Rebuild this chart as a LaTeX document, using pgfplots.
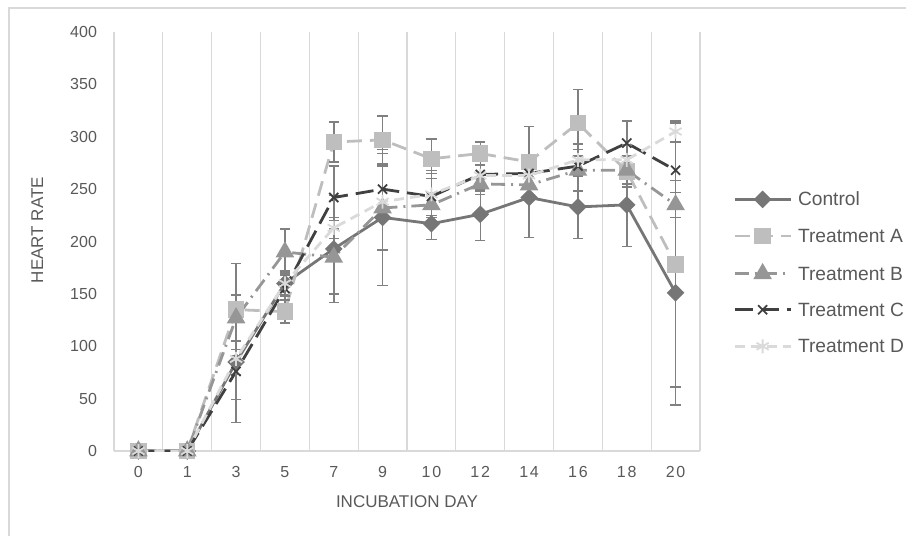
\documentclass[border=0pt]{standalone}
\usepackage{pgfplots}
\usepackage{pgfplotstable}
\pgfplotsset{compat=1.18}
\usepackage{fontspec}
\setmainfont{Liberation Sans}
\definecolor{txt}{RGB}{89,89,89}
\definecolor{gridc}{RGB}{217,217,217}
\definecolor{cCtrl}{RGB}{118,118,118}
\definecolor{cA}{RGB}{190,190,190}
\definecolor{cB}{RGB}{150,150,150}
\definecolor{cC}{RGB}{64,64,64}
\definecolor{cD}{RGB}{218,218,218}
\definecolor{errc}{RGB}{128,128,128}

\pgfplotstableread{
x y e
0 0 0
1 0 0
2 85 12
3 160 11
4 193 51
5 223 65
6 217 15
7 226 25
8 242 38
9 233 30
10 235 40
11 151 107
}\ctrl
\pgfplotstableread{
x y e
0 0 0
1 0 0
2 135 44
3 133 11
4 295 19
5 297 23
6 279 19
7 284 11
8 276 34
9 313 32
10 267 15
11 178 117
}\trA
\pgfplotstableread{
x y e
0 0 0
1 0 0
2 127 22
3 190 22
4 185 35
5 232 40
6 235 12
7 255 10
8 254 12
9 268 20
10 268 13
11 235 12
}\trB
\pgfplotstableread{
x y e
0 0 0
1 0 0
2 76 49
3 155 15
4 242 30
5 250 22
6 243 25
7 264 14
8 265 10
9 272 10
10 294 21
11 268 45
}\trC
\pgfplotstableread{
x y e
0 0 0
1 0 0
2 88 39
3 160 12
4 213 10
5 238 46
6 245 20
7 263 15
8 263 20
9 278 15
10 278 14
11 305 10
}\trD

\begin{document}
\begin{tikzpicture}
\path[use as bounding box] (0,0) rectangle (453pt,268pt);
\draw[gridc, line width=0.6pt] (4.5pt,-2pt) rectangle (455pt,264pt);
\begin{axis}[
  at={(57pt,42.5pt)}, anchor=south west,
  scale only axis, width=293pt, height=209.5pt,
  xmin=-0.5, xmax=11.5, ymin=0, ymax=400,
  axis x line=bottom, axis y line=left,
  axis line style={draw=gridc, line width=0.6pt, -},
  xtick={0,...,11},
  xticklabels={0,1,3,5,7,9,1\kern0.9pt0,1\kern0.9pt2,1\kern0.9pt4,1\kern0.9pt6,1\kern0.9pt8,2\kern0.9pt0},
  ytick={0,50,...,400},
  minor xtick={0.5,1.5,...,11.5},
  xminorgrids, minor grid style={draw=gridc, line width=0.6pt},
  major tick length=0pt, minor tick length=0pt,
  tick label style={font=\fontsize{8}{9.5}\selectfont, text=txt},
  /pgf/number format/assume math mode=true,
  yticklabel style={xshift=-5pt},
  xticklabel style={yshift=-4pt},
  ylabel={HEART RATE}, xlabel={INCUBATION DAY},
  label style={font=\fontsize{8.5}{10}\selectfont, text=txt},
  ylabel style={at={(axis description cs:-0.131,0.527)}, anchor=center},
  xlabel style={at={(axis description cs:0.5,-0.122)}, anchor=center},
  legend style={at={(axis description cs:1.056,0.425)}, anchor=west, draw=none, fill=none,
    inner sep=0pt, row sep=11.5pt, font=\fontsize{9.6}{11}\selectfont, text=txt,
    nodes={inner sep=0pt, text height=6.5pt, text depth=0pt}},
  legend cell align=left,
  legend image code/.code={\draw[mark repeat=2, mark phase=2] plot coordinates {(0pt,0pt) (14pt,0pt) (28pt,0pt)}; \path (31pt,0pt);},
  error bars/y dir=both, error bars/y explicit,
  error bars/error bar style={draw=errc, line width=0.75pt, solid},
  error bars/error mark options={draw=errc, rotate=90, mark size=2.6pt, line width=0.75pt, solid},
]
\addplot[cCtrl, line width=1.4pt, mark=square*, mark size=2.4pt, mark options={rotate=45, solid, fill=cCtrl}]
  table[x=x, y=y, y error=e] {\ctrl};
\addlegendentry{Control}
\addplot[cA, line width=1.4pt, dash pattern=on 7.5pt off 4pt, mark=square*, mark size=3.4pt, mark options={solid, fill=cA}]
  table[x=x, y=y, y error=e] {\trA};
\addlegendentry{Treatment A}
\addplot[cB, line width=1.4pt, dash pattern=on 7pt off 3pt on 1pt off 3pt, mark=triangle*, mark size=4pt, mark options={solid, fill=cB}]
  table[x=x, y=y, y error=e] {\trB};
\addlegendentry{Treatment B}
\addplot[cC, line width=1.4pt, dash pattern=on 9pt off 4pt, mark=x, mark size=3.2pt, mark options={solid, line width=0.9pt}]
  table[x=x, y=y, y error=e] {\trC};
\addlegendentry{Treatment C}
\addplot[cD, line width=1.4pt, dash pattern=on 5pt off 3pt, mark=asterisk, mark size=3.5pt, mark options={solid, line width=0.9pt}]
  table[x=x, y=y, y error=e] {\trD};
\addlegendentry{Treatment D}
\end{axis}
\end{tikzpicture}
\end{document}
